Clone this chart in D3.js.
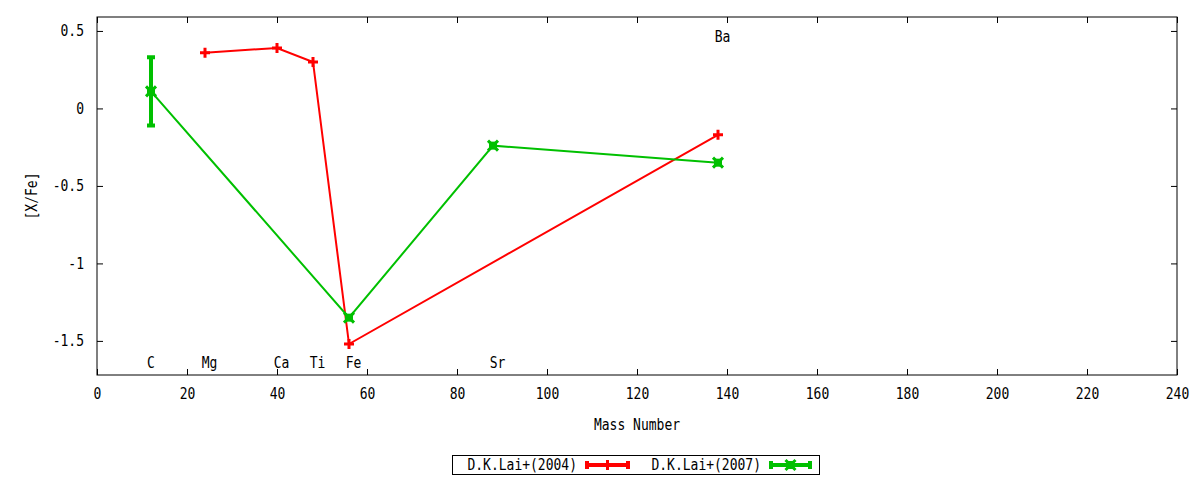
<!DOCTYPE html>
<html><head><meta charset="utf-8">
<script src="https://cdn.jsdelivr.net/npm/d3@7"></script>
<style>
body{margin:0;background:#fff;}
text{font-family:"DejaVu Sans Mono",monospace;font-size:13px;fill:#000;}
</style></head><body>
<svg id="c" width="1200" height="480"></svg>
<script>
const elements = ["C","Mg","Ca","Ti","Fe","Sr","Ba"];
const massNumbers = [12,24,40,48,56,88,138];
const labelX = [12,25,41,49,57,89,139];
const labelY = [-1.645,-1.645,-1.645,-1.645,-1.645,-1.645,0.46];

const lai2004Mass = [24,40,48,56,138];
const lai2004Val = [0.36,0.39,0.30,-1.52,-0.17];

const lai2007Mass = [12,56,88,138];
const lai2007Val = [0.11,-1.35,-0.24,-0.35];
const lai2007Err = [0.22,0,0,0];

const xTicks = [0,20,40,60,80,100,120,140,160,180,200,220,240];
const yTicks = [0.5,0,-0.5,-1,-1.5];
const yTickLabels = ["0.5","0","-0.5","-1","-1.5"];
const seriesNames = ["D.K.Lai+(2004)","D.K.Lai+(2007)"];

const svg = d3.select("#c");
const L=97,R=1177,T=17,B=375;
const x = d3.scaleLinear().domain([0,240]).range([L,R]);
const y = d3.scaleLinear().domain([0.59,-1.72]).range([T,B]);

const gB = svg.append("g").attr("transform",`translate(0,${B})`)
  .call(d3.axisBottom(x).tickValues(xTicks).tickSizeInner(-6).tickSizeOuter(0).tickPadding(13));
const gT = svg.append("g").attr("transform",`translate(0,${T})`)
  .call(d3.axisTop(x).tickValues(xTicks).tickSizeInner(-6).tickSizeOuter(0).tickFormat(""));
const gL = svg.append("g").attr("transform",`translate(${L},0)`)
  .call(d3.axisLeft(y).tickValues(yTicks).tickSizeInner(-6).tickSizeOuter(0).tickPadding(13)
    .tickFormat((d,i)=>yTickLabels[i]));
const gR = svg.append("g").attr("transform",`translate(${R},0)`)
  .call(d3.axisRight(y).tickValues(yTicks).tickSizeInner(-6).tickSizeOuter(0).tickFormat(""));
[gB,gT,gL,gR].forEach(g=>{
  g.select(".domain").remove();
  g.selectAll("line").attr("stroke","#000").attr("stroke-width",1);
  g.selectAll("text").attr("font-family",null).attr("font-size",null);
});
svg.append("rect").attr("x",L).attr("y",T).attr("width",R-L).attr("height",B-T)
  .attr("fill","none").attr("stroke","#000").attr("stroke-width",1);

svg.append("text").attr("x",(L+R)/2).attr("y",430).attr("text-anchor","middle").text("Mass Number");
svg.append("text").attr("transform",`translate(37,${(T+B)/2}) rotate(-90)`).attr("text-anchor","middle").text("[X/Fe]");

svg.selectAll("text.el").data(elements).join("text").attr("class","el")
  .attr("x",(d,i)=>x(labelX[i])).attr("y",(d,i)=>y(labelY[i])+5)
  .attr("text-anchor","middle").text(d=>d);

const red="#ff0000", green="#00c000";
const line = d3.line().x(d=>x(d[0])).y(d=>y(d[1]));

function plus(g,cx,cy,col){
  g.append("path").attr("d",`M${cx-5},${cy}H${cx+5}M${cx},${cy-5}V${cy+5}`)
    .attr("stroke",col).attr("stroke-width",3).attr("fill","none");
}
function cross(g,cx,cy,col){
  g.append("path").attr("d",`M${cx-5},${cy-5}L${cx+5},${cy+5}M${cx-5},${cy+5}L${cx+5},${cy-5}`)
    .attr("stroke",col).attr("stroke-width",3).attr("fill","none");
  g.append("rect").attr("x",cx-4).attr("y",cy-4).attr("width",8).attr("height",8).attr("fill",col);
}

const d04 = lai2004Mass.map((m,i)=>[m,lai2004Val[i]]);
const d07 = lai2007Mass.map((m,i)=>[m,lai2007Val[i]]);

svg.append("path").attr("d",line(d04)).attr("stroke",red).attr("stroke-width",2).attr("fill","none");
svg.append("path").attr("d",line(d07)).attr("stroke",green).attr("stroke-width",2).attr("fill","none");

const gm = svg.append("g");
d07.forEach((d,i)=>{
  const e=lai2007Err[i]; if(!e) return;
  const cx=x(d[0]), y1=y(d[1]+e), y2=y(d[1]-e);
  gm.append("path").attr("d",`M${cx},${y1}V${y2}M${cx-4},${y1}H${cx+4}M${cx-4},${y2}H${cx+4}`)
    .attr("stroke",green).attr("stroke-width",4).attr("fill","none");
});
d04.forEach(d=>plus(gm,x(d[0]),y(d[1]),red));
d07.forEach(d=>cross(gm,x(d[0]),y(d[1]),green));

const lg = svg.append("g");
lg.append("rect").attr("x",452.5).attr("y",455.5).attr("width",367).attr("height",19)
  .attr("fill","none").attr("stroke","#000");
lg.append("text").attr("x",577).attr("y",470).attr("text-anchor","end").text(seriesNames[0]);
lg.append("text").attr("x",761).attr("y",470).attr("text-anchor","end").text(seriesNames[1]);
function legSample(x0,x1,col,marker){
  const cy=465;
  lg.append("path").attr("d",`M${x0},${cy}H${x1}M${x0},${cy-4}V${cy+4}M${x1},${cy-4}V${cy+4}`)
    .attr("stroke",col).attr("stroke-width",4).attr("fill","none");
  marker(lg,(x0+x1)/2,cy,col);
}
legSample(587,628,red,plus);
legSample(771,810,green,cross);

// make glyphs taller but keep the narrow width of the reference font
svg.selectAll("text").each(function(){
  const t=d3.select(this);
  const w=this.getComputedTextLength();
  if(!w) return;
  t.style("font-size","15px").attr("textLength",w).attr("lengthAdjust","spacingAndGlyphs");
});
</script>
</body></html>
